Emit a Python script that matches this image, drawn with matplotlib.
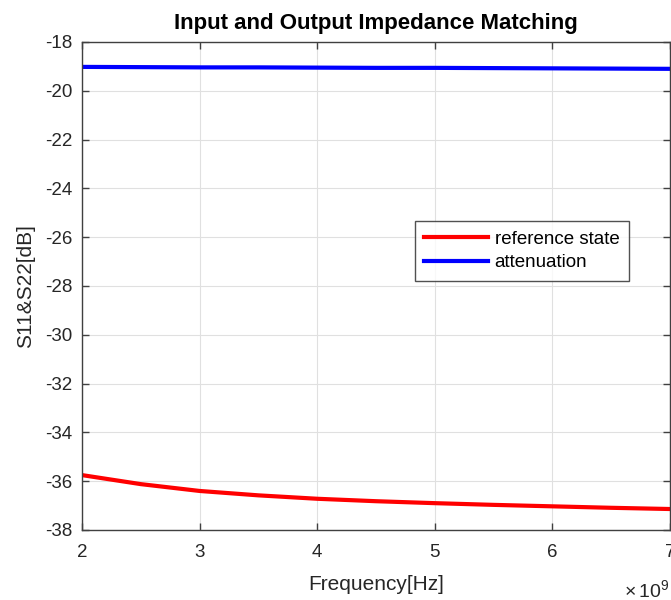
import matplotlib
matplotlib.use("Agg")
import matplotlib.pyplot as plt
from matplotlib.ticker import FuncFormatter

plt.rcParams["font.family"] = ["Liberation Sans", "DejaVu Sans"]
plt.rcParams["axes.unicode_minus"] = False
plt.rcParams["mathtext.fontset"] = "custom"
plt.rcParams["mathtext.rm"] = "Liberation Sans"

# S-parameter sweep, 2-7 GHz
freq_hz = [2.0e9, 2.5e9, 3.0e9, 3.5e9, 4.0e9, 4.5e9, 5.0e9, 5.5e9, 6.0e9, 6.5e9, 7.0e9]
s_reference = [-35.75, -36.12, -36.40, -36.58, -36.72, -36.82, -36.90, -36.97, -37.03, -37.09, -37.14]
s_attenuation = [-19.02, -19.03, -19.04, -19.04, -19.05, -19.06, -19.06, -19.07, -19.08, -19.09, -19.10]

x_ticks = [2e9, 3e9, 4e9, 5e9, 6e9, 7e9]
y_ticks = list(range(-38, -17, 2))

axis_grey = "#404040"
text_grey = "#262626"

fig = plt.figure(figsize=(6.71, 6.0), dpi=100)
ax = fig.add_axes([82 / 671, 1 - 530 / 600, 588 / 671, 488 / 600])

ax.plot(freq_hz, s_reference, color="#ff0000", linewidth=3, label="reference state")
ax.plot(freq_hz, s_attenuation, color="#0000ff", linewidth=3, label="attenuation")

ax.set_xlim(2e9, 7e9)
ax.set_ylim(-38, -18)
ax.set_xticks(x_ticks)
ax.set_yticks(y_ticks)
ax.xaxis.set_major_formatter(FuncFormatter(lambda v, pos: f"{v / 1e9:g}"))
ax.grid(True, color="#e0e0e0", linewidth=0.8)
ax.set_axisbelow(True)

for spine in ax.spines.values():
    spine.set_color(axis_grey)
    spine.set_linewidth(1.0)
ax.tick_params(direction="in", length=5, width=1.0, colors=axis_grey,
               labelcolor=text_grey, labelsize=13.5, pad=7, top=True, right=True)
ax.tick_params(axis="x", pad=10)

ax.set_xlabel("Frequency[Hz]", fontsize=15, color=text_grey, labelpad=10)
ax.set_ylabel("S11&S22[dB]", fontsize=15, color=text_grey, labelpad=7)
ax.set_title("Input and Output Impedance Matching", fontsize=16, fontweight="bold",
             color="black", pad=9)
fig.text(669 / 671, 1 - 597 / 600, r"$\mathregular{\times\,10^{9}}$",
         ha="right", va="baseline", fontsize=14, color=text_grey)

leg = ax.legend(loc="upper left", bbox_to_anchor=(333 / 588, (530 - 221) / 488),
                fontsize=13.5, frameon=True, fancybox=False, handlelength=3.4,
                borderpad=0.5, labelspacing=0.35, handletextpad=0.35,
                borderaxespad=0)
leg.get_frame().set_edgecolor(text_grey)
leg.get_frame().set_linewidth(1.0)

fig.savefig("out.png", dpi=100)
